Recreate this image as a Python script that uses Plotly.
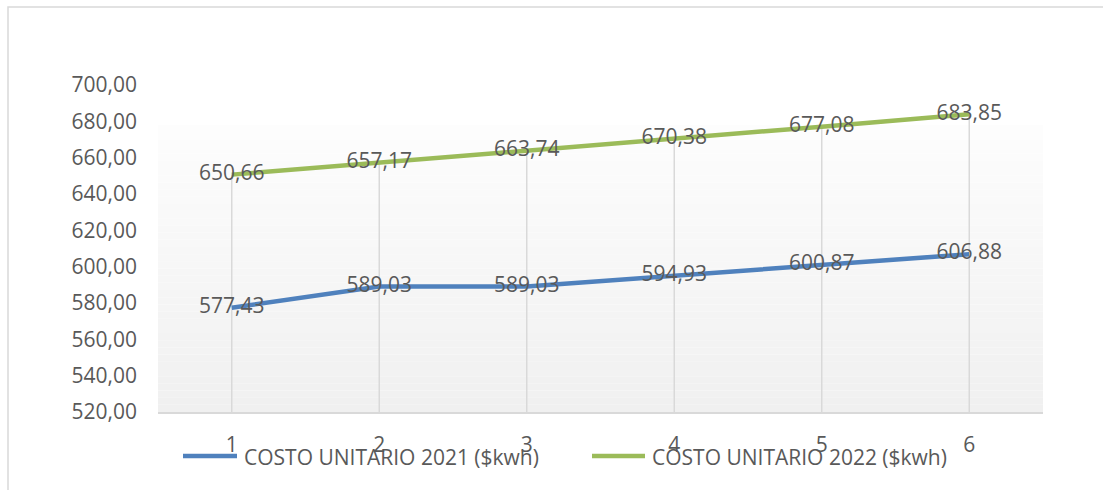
import plotly.graph_objects as go

periods = [1, 2, 3, 4, 5, 6]
series_2021_name = "COSTO UNITARIO 2021 ($kwh)"
series_2022_name = "COSTO UNITARIO 2022 ($kwh)"
costo_2021 = [577.43, 589.03, 589.03, 594.93, 600.87, 606.88]
costo_2022 = [650.66, 657.17, 663.74, 670.38, 677.08, 683.85]
y_ticks = [520, 540, 560, 580, 600, 620, 640, 660, 680, 700]

BLUE = "#4f81bd"
GREEN = "#9bbb59"
TEXT = "#595959"
FONT = "Open Sans"
FS = 21

W, H = 1103, 490
L, R, T, B = 158, 1043, 85, 412
PW, PH = R - L, B - T


def px(x):
    return (x - L) / PW


def py(y):
    return (B - y) / PH


fig = go.Figure()

# drop lines from axis to the highest point at each period
ymin = y_ticks[0]
dx, dy = [], []
for p, a, b in zip(periods, costo_2021, costo_2022):
    dx += [p, p, None]
    dy += [ymin, max(a, b), None]
fig.add_trace(go.Scatter(x=dx, y=dy, mode="lines",
                         line=dict(color="#d9d9d9", width=1.5),
                         hoverinfo="skip", showlegend=False))

for name, vals, col in [(series_2021_name, costo_2021, BLUE),
                        (series_2022_name, costo_2022, GREEN)]:
    fig.add_trace(go.Scatter(
        x=periods, y=vals, name=name, mode="lines+text",
        line=dict(color=col, width=4.5),
        texttemplate="%{y:.2f}", textposition="middle center",
        textfont=dict(family=FONT, size=FS, color=TEXT),
        showlegend=False, cliponaxis=False))

shapes = []
# plot-area gradient
n = 40
top = py(125)
c0 = (0xf0, 0xf0, 0xf0)
c1 = (0xfd, 0xfd, 0xfd)
for i in range(n):
    t = i / (n - 1)
    c = tuple(round(c0[k] + (c1[k] - c0[k]) * t) for k in range(3))
    shapes.append(dict(type="rect", xref="paper", yref="paper",
                       x0=0, x1=1, y0=top * i / n, y1=top * (i + 1) / n,
                       fillcolor="rgb(%d,%d,%d)" % c, line=dict(width=0),
                       layer="below"))
# outer border
shapes.append(dict(type="rect", xref="paper", yref="paper",
                   x0=px(8), x1=px(1200), y0=py(600), y1=py(7),
                   line=dict(color="#d9d9d9", width=1.5),
                   fillcolor="rgba(0,0,0,0)", layer="below"))
# legend samples
for x0, x1, col in [(183, 237, BLUE), (592, 645, GREEN)]:
    shapes.append(dict(type="line", xref="paper", yref="paper",
                       x0=px(x0), x1=px(x1), y0=py(456), y1=py(456),
                       line=dict(color=col, width=4.5)))

annotations = []
for xs, name in [(242, series_2021_name), (650, series_2022_name)]:
    annotations.append(dict(xref="paper", yref="paper", x=px(xs), y=py(457),
                            xanchor="left", yanchor="middle", showarrow=False,
                            text=name.replace("$", "&#36;"),
                            font=dict(family=FONT, size=FS, color=TEXT)))

fig.update_layout(
    width=W, height=H,
    margin=dict(l=L, r=W - R, t=T, b=H - B),
    paper_bgcolor="white", plot_bgcolor="rgba(0,0,0,0)",
    separators=",.",
    showlegend=False,
    shapes=shapes, annotations=annotations,
    font=dict(family=FONT, size=FS, color=TEXT),
    xaxis=dict(range=[0.5, 6.5], tickvals=periods, showgrid=False,
               zeroline=False, showline=True, linecolor="#d9d9d9",
               linewidth=1.5, ticks="", ticklabelstandoff=13,
               tickfont=dict(family=FONT, size=FS, color=TEXT)),
    yaxis=dict(range=[520, 700], tickvals=y_ticks, tickformat=".2f",
               showgrid=False, zeroline=False, showline=False, ticks="",
               ticklabelstandoff=20,
               tickfont=dict(family=FONT, size=FS, color=TEXT)),
)

fig.write_html("out.html",
               config={"displayModeBar": False},
               post_script="document.body.style.margin='0';"
                           "document.body.style.overflow='hidden';")
